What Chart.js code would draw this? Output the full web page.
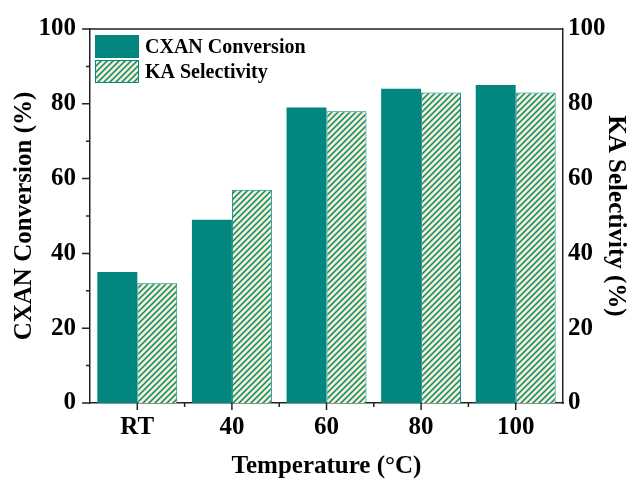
<!DOCTYPE html>
<html>
<head>
<meta charset="utf-8">
<script src="https://cdn.jsdelivr.net/npm/chart.js@4.4.1/dist/chart.umd.min.js"></script>
<style>
  body { margin: 0; background: #fff; }
  canvas { display: block; }
</style>
</head>
<body>
<canvas id="tempChart" width="633" height="481"></canvas>
<script>
const temperatures = ['RT', '40', '60', '80', '100'];
const cxanConversion = [35, 49, 79, 84, 85];
const kaSelectivity = [32, 57, 78, 83, 83];

const TEAL = '#02867f';
const CREAM = '#f5efc8';
const AXIS = '#222';
const FONT = '"Liberation Serif", "Times New Roman", serif';

const canvas = document.getElementById('tempChart');
const ctx = canvas.getContext('2d');

// diagonal teal stripes on cream for the selectivity bars
function makeHatch() {
    const size = 6;
    const tile = document.createElement('canvas');
    tile.width = size;
    tile.height = size;
    const g = tile.getContext('2d');
    g.fillStyle = CREAM;
    g.fillRect(0, 0, size, size);
    g.strokeStyle = TEAL;
    g.lineWidth = 1.5;
    g.beginPath();
    g.moveTo(-1, size + 1); g.lineTo(size + 1, -1);
    g.moveTo(-1, 1); g.lineTo(1, -1);
    g.moveTo(size - 1, size + 1); g.lineTo(size + 1, size - 1);
    g.stroke();
    return ctx.createPattern(tile, 'repeat');
}
const hatch = makeHatch();

// ticks (major + minor), top frame line and the legend inside the plot
const axisDecor = {
    id: 'axisDecor',
    afterDraw(chart) {
        const { ctx, chartArea: a, scales: { x, y } } = chart;
        ctx.save();
        ctx.strokeStyle = AXIS;
        ctx.lineWidth = 1.5;
        ctx.beginPath();
        ctx.moveTo(a.left, a.top);
        ctx.lineTo(a.right, a.top);
        for (let v = 0; v <= 100; v += 10) {
            const py = y.getPixelForValue(v);
            const len = v % 20 === 0 ? 8 : 4;
            ctx.moveTo(a.left - len, py);
            ctx.lineTo(a.left, py);
        }
        temperatures.forEach((t, i) => {
            const px = x.getPixelForValue(i);
            ctx.moveTo(px, a.bottom);
            ctx.lineTo(px, a.bottom + 7);
            if (i > 0) {
                const mx = (px + x.getPixelForValue(i - 1)) / 2;
                ctx.moveTo(mx, a.bottom);
                ctx.lineTo(mx, a.bottom + 4);
            }
        });
        ctx.stroke();

        // legend
        const lx = a.left + 5, ly = a.top + 6, bw = 44, bh = 23;
        chart.data.datasets.forEach((ds, i) => {
            const by = ly + i * 25;
            ctx.fillStyle = ds.backgroundColor;
            ctx.fillRect(lx, by, bw, bh);
            ctx.strokeStyle = TEAL;
            ctx.lineWidth = 1;
            ctx.strokeRect(lx + 0.5, by + 0.5, bw - 1, bh - 1);
            ctx.fillStyle = '#000';
            ctx.font = 'bold 20px ' + FONT;
            ctx.textBaseline = 'middle';
            ctx.textAlign = 'left';
            ctx.fillText(ds.label, lx + bw + 6, by + bh / 2 + 1);
        });
        ctx.restore();
    }
};

const tickFont = { family: FONT, size: 25, weight: 'bold' };
const titleFont = { family: FONT, size: 25, weight: 'bold', lineHeight: 1 };

new Chart(ctx, {
    type: 'bar',
    data: {
        labels: temperatures,
        datasets: [
            {
                label: 'CXAN Conversion',
                data: cxanConversion,
                backgroundColor: TEAL,
                borderColor: TEAL,
                borderWidth: 0,
                yAxisID: 'y'
            },
            {
                label: 'KA Selectivity',
                data: kaSelectivity,
                backgroundColor: hatch,
                borderColor: TEAL,
                borderWidth: 1,
                yAxisID: 'y1'
            }
        ]
    },
    options: {
        responsive: false,
        animation: false,
        layout: { padding: { top: 22, left: 0, right: 0, bottom: 0 } },
        datasets: { bar: { categoryPercentage: 0.845, barPercentage: 1 } },
        plugins: { legend: { display: false }, tooltip: { enabled: false } },
        scales: {
            x: {
                grid: { display: false, drawTicks: false },
                border: { display: true, color: AXIS, width: 1.5 },
                ticks: { color: '#000', font: tickFont, padding: 10, maxRotation: 0 },
                title: {
                    display: true,
                    text: 'Temperature (°C)',
                    color: '#000',
                    font: titleFont,
                    padding: { top: 0, bottom: 2 }
                },
                afterFit(scale) { scale.height = 78; }
            },
            y: {
                position: 'left',
                min: 0, max: 100,
                grid: { display: false, drawTicks: false },
                border: { display: true, color: AXIS, width: 1.5 },
                ticks: { stepSize: 20, color: '#000', font: tickFont, padding: 14 },
                title: {
                    display: true,
                    text: 'CXAN Conversion (%)',
                    color: '#000',
                    font: titleFont,
                    padding: { top: 12, bottom: 0 }
                },
                afterFit(scale) { scale.width = 90; }
            },
            y1: {
                position: 'right',
                min: 0, max: 100,
                grid: { display: false, drawTicks: false },
                border: { display: true, color: AXIS, width: 1.5 },
                ticks: { stepSize: 20, color: '#000', font: tickFont, padding: 5 },
                title: {
                    display: true,
                    text: 'KA Selectivity (%)',
                    color: '#000',
                    font: titleFont,
                    padding: { top: 5, bottom: 0 }
                },
                afterFit(scale) { scale.width = 70; }
            }
        }
    },
    plugins: [axisDecor]
});
</script>
</body>
</html>
